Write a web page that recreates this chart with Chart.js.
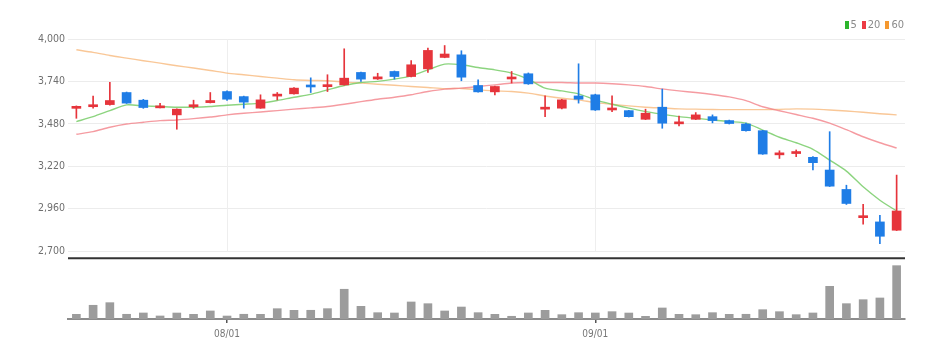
<!DOCTYPE html>
<html>
<head>
<meta charset="utf-8">
<script src="https://cdn.jsdelivr.net/npm/chart.js@4.4.0/dist/chart.umd.min.js"></script>
<style>
html,body{margin:0;padding:0;background:#fff;}
#wrap{position:relative;width:951px;height:358px;}
#legend{position:absolute;top:19px;right:47px;font-size:11px;font-family:'Liberation Sans Narrow','DejaVu Sans Condensed',Roboto,sans-serif;color:#8a8a8a;display:flex;align-items:center;line-height:11px;}
#legend .it{display:flex;align-items:center;margin-left:5px;}
#legend .b{display:inline-block;width:4px;height:8px;margin-right:2px;}
</style>
</head>
<body>
<div id="wrap">
<canvas id="c" width="951" height="358"></canvas>
<div id="legend"></div>
</div>
<script>
// ---- data ----
const labels = ['07/19','07/20','07/21','07/24','07/25','07/26','07/27','07/28','07/31',
  '08/01','08/02','08/03','08/04','08/07','08/08','08/09','08/10','08/11','08/14','08/16',
  '08/17','08/18','08/21','08/22','08/23','08/24','08/25','08/28','08/29','08/30','08/31',
  '09/01','09/04','09/05','09/06','09/07','09/08','09/11','09/12','09/13','09/14','09/15',
  '09/18','09/19','09/20','09/21','09/22','09/25','09/26','09/27'];
const shownDates = ['08/01','09/01'];

const opens  = [3575,3585,3598,3672,3625,3578,3535,3585,3610,3678, 3647,3576,3650,3664,3712,3708,3719,3795,3755,3801,
                3770,3817,3887,3903,3715,3676,3755,3787,3570,3576, 3651,3658,3565,3561,3508,3582,3480,3508,3524,3500,
                3479,3438,3290,3298,3275,3197,3078,2905,2879,2828];
const highs  = [3590,3650,3735,3675,3630,3605,3572,3625,3672,3682, 3650,3658,3672,3702,3762,3781,3940,3798,3790,3804,
                3868,3945,3960,3928,3750,3712,3801,3792,3651,3630, 3848,3662,3651,3563,3570,3693,3528,3549,3535,3503,
                3485,3440,3315,3320,3280,3432,3104,2987,2920,3166];
const lows   = [3514,3576,3595,3605,3575,3578,3447,3575,3608,3623, 3576,3575,3627,3662,3672,3678,3717,3740,3752,3754,
                3768,3795,3885,3744,3674,3658,3730,3722,3524,3572, 3607,3562,3555,3522,3506,3453,3467,3506,3486,3479,
                3435,3293,3268,3279,3197,3096,2986,2865,2746,2826];
const closes = [3585,3595,3623,3607,3580,3585,3570,3592,3623,3631, 3613,3627,3660,3699,3706,3716,3760,3754,3768,3770,
                3842,3930,3908,3766,3676,3709,3765,3725,3580,3627, 3631,3565,3572,3524,3545,3484,3488,3535,3500,3482,
                3438,3295,3298,3306,3242,3098,2992,2912,2791,2946];
const volumes = [46800,137200,163400,47100,60300,30200,59800,46500,80400,29700, 47300,46900,103100,86800,87200,103500,297400,126800,63200,60100,
                 170300,153100,80200,119700,63400,46700,27100,60200,86900,43300, 63100,60200,73400,59700,26800,110200,46600,43100,63300,46800,
                 47200,93100,73200,43400,60300,326900,153300,193100,210200,533400];
const ma5  = [3494,3524,3561,3596,3590,3586,3582,3582,3586,3594, 3600,3607,3623,3643,3661,3688,3715,3733,3740,3754,
              3774,3811,3846,3842,3825,3811,3791,3754,3699,3682, 3664,3627,3600,3576,3555,3539,3524,3514,3504,3494,
              3484,3442,3398,3364,3324,3258,3190,3094,3012,2946];
const ma20 = [3416,3432,3459,3479,3490,3500,3504,3512,3522,3535, 3545,3553,3561,3570,3578,3586,3600,3616,3631,3643,
              3658,3678,3693,3699,3709,3719,3730,3733,3733,3733, 3730,3730,3726,3719,3709,3694,3682,3672,3660,3645,
              3622,3585,3560,3537,3514,3484,3444,3401,3364,3332];
const ma60 = [3934,3918,3899,3883,3867,3852,3836,3822,3807,3791, 3781,3770,3760,3750,3746,3744,3736,3730,3723,3717,
              3709,3703,3696,3697,3688,3682,3678,3668,3651,3637, 3627,3610,3600,3590,3582,3577,3572,3570,3568,3567,
              3567,3567,3569,3572,3570,3565,3559,3551,3542,3535];
const priceTicks = [2700,2960,3220,3480,3740,4000];
const maNames  = ['5','20','60'];
const maLegendColors = ['#2cb52c','#ec3b44','#f5982f'];
const maLineColors = ['rgba(120,205,105,0.85)','rgba(242,130,138,0.8)','rgba(247,185,125,0.8)'];

// ---- styling constants ----
const PRICE_MAX = 4000, PRICE_MIN = 2284, PRICE_FLOOR = 2657, VOL_MAX = 2800000;
const UP = '#e6343b', DOWN = '#1f7de6';
const FONT = "'Liberation Sans Narrow','DejaVu Sans Condensed',Roboto,sans-serif";

// legend (HTML)
const lg = document.getElementById('legend');
maNames.forEach((n,i)=>{
  const it = document.createElement('span'); it.className='it';
  const b = document.createElement('span'); b.className='b'; b.style.background = maLegendColors[i];
  it.appendChild(b); it.appendChild(document.createTextNode(n));
  lg.appendChild(it);
});

const candleColors = closes.map((c,i)=> c >= opens[i] ? UP : DOWN);

const panelPlugin = {
  id:'panel',
  beforeDatasetsDraw(chart){
    const {ctx, chartArea, scales} = chart;
    const y27 = scales.y.getPixelForValue(priceTicks[0]);
    ctx.save();
    ctx.strokeStyle = '#eeeeee'; ctx.lineWidth = 1;
    labels.forEach((l,i)=>{
      if (shownDates.includes(l)) {
        const x = Math.round(scales.x.getPixelForValue(i)) + 0.5;
        ctx.beginPath(); ctx.moveTo(x, chartArea.top); ctx.lineTo(x, y27); ctx.stroke();
      }
    });
    ctx.restore();
  },
  afterDatasetsDraw(chart){
    const {ctx, chartArea, scales} = chart;
    const yb = scales.y.getPixelForValue(PRICE_FLOOR);
    ctx.save();
    ctx.strokeStyle = '#333333'; ctx.lineWidth = 2;
    ctx.beginPath(); ctx.moveTo(chartArea.left, yb); ctx.lineTo(chartArea.right, yb); ctx.stroke();
    ctx.restore();
  }
};

const maDatasets = [ma5, ma20, ma60].map((d,i)=>({
  type:'line', label:maNames[i], data:d, borderColor:maLineColors[i], backgroundColor:maLineColors[i],
  borderWidth:1.4, pointRadius:0, tension:0.25, yAxisID:'y', order:3
}));

new Chart(document.getElementById('c'), {
  type:'bar',
  data:{
    labels,
    datasets:[
      ...maDatasets,
      {type:'bar', label:'wick', data: lows.map((l,i)=>[l, highs[i]]), backgroundColor:candleColors,
        barThickness:1, grouped:false, yAxisID:'y', order:2},
      {type:'bar', label:'body', data: opens.map((o,i)=>[o, closes[i]]), backgroundColor:candleColors,
        barThickness:9, minBarLength:2, grouped:false, yAxisID:'y', order:1},
      {type:'bar', label:'volume', data: volumes, backgroundColor:'#9c9c9c',
        barThickness:8, grouped:false, yAxisID:'yv', order:1}
    ]
  },
  options:{
    responsive:false, animation:false, devicePixelRatio:1,
    layout:{padding:{top:39, right:46, bottom:13, left:0}},
    plugins:{legend:{display:false}, tooltip:{enabled:false}},
    scales:{
      x:{
        type:'category', offset:true,
        grid:{display:true, drawOnChartArea:false, drawTicks:true, tickLength:4, offset:false,
          color:(c)=> shownDates.includes(labels[c.index]) ? '#555555' : 'rgba(0,0,0,0)', lineWidth:1.5},
        border:{display:true, color:'#8c8c8c', width:2},
        ticks:{autoSkip:false, maxRotation:0, padding:5, color:'#777777', font:{size:10, family:FONT},
          callback:(v,i)=> shownDates.includes(labels[i]) ? labels[i] : ''}
      },
      y:{
        type:'linear', position:'left', min:PRICE_MIN, max:PRICE_MAX,
        afterBuildTicks:(s)=>{ s.ticks = priceTicks.map(v=>({value:v})); },
        afterFit:(s)=>{ s.width = 68; },
        grid:{color:'#ececec', drawTicks:false, lineWidth:1},
        border:{display:false},
        ticks:{padding:3, color:'#6f6f6f', font:{size:10.5, family:FONT},
          callback:(v)=> Number(v).toLocaleString('en-US')}
      },
      yv:{
        type:'linear', position:'right', display:false, min:0, max:VOL_MAX
      }
    }
  },
  plugins:[panelPlugin]
});
</script>
</body>
</html>
